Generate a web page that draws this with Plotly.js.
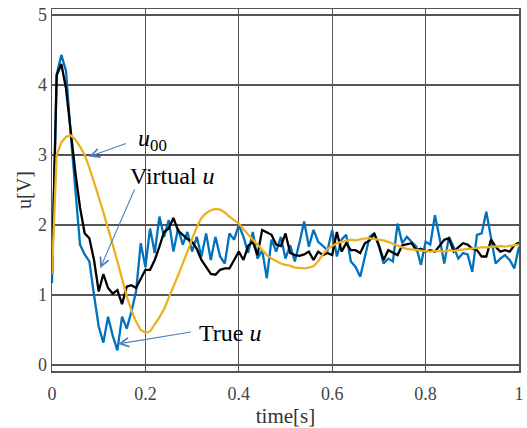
<!DOCTYPE html>
<html>
<head>
<meta charset="utf-8">
<script src="https://cdn.plot.ly/plotly-3.0.1.min.js"></script>
<style>html,body{margin:0;padding:0;background:#fff;}#chart{width:527px;height:428px;}</style>
</head>
<body>
<div id="chart"></div>
<script>
const time = [0.00,0.01,0.02,0.03,0.04,0.05,0.06,0.07,0.08,0.09,
0.10,0.11,0.12,0.13,0.14,0.15,0.16,0.17,0.18,0.19,
0.20,0.21,0.22,0.23,0.24,0.25,0.26,0.27,0.28,0.29,
0.30,0.31,0.32,0.33,0.34,0.35,0.36,0.37,0.38,0.39,
0.40,0.41,0.42,0.43,0.44,0.45,0.46,0.47,0.48,0.49,
0.50,0.51,0.52,0.53,0.54,0.55,0.56,0.57,0.58,0.59,
0.60,0.61,0.62,0.63,0.64,0.65,0.66,0.67,0.68,0.69,
0.70,0.71,0.72,0.73,0.74,0.75,0.76,0.77,0.78,0.79,
0.80,0.81,0.82,0.83,0.84,0.85,0.86,0.87,0.88,0.89,
0.90,0.91,0.92,0.93,0.94,0.95,0.96,0.97,0.98,0.99,1.00];

const trueU = [1.17,4.15,4.43,4.2,3.3,2.45,1.72,1.58,1.48,1.0,
0.55,0.32,0.69,0.42,0.21,0.69,0.52,0.76,1.05,1.74,
1.4,1.95,1.6,2.12,1.83,2.07,1.62,1.95,1.72,1.9,
1.62,1.83,1.55,1.88,1.5,1.83,1.55,1.45,1.88,1.79,
2.0,1.83,1.6,1.9,1.52,1.64,1.24,1.79,1.62,1.83,
1.52,1.71,1.48,1.75,2.05,1.69,1.93,1.76,1.7,1.64,
1.93,1.55,1.79,1.86,1.48,1.4,1.26,1.55,1.83,1.88,
1.7,1.45,1.52,1.48,2.02,1.74,1.83,1.76,1.69,1.43,
1.76,1.72,2.14,1.81,1.45,1.83,1.69,1.52,1.6,1.58,
1.33,1.86,1.88,2.19,1.81,1.45,1.52,1.57,1.5,1.38,1.69];

const virtualU = [1.3,4.14,4.3,3.95,3.35,2.75,2.25,1.88,1.81,1.5,
1.05,1.3,1.1,1.02,1.07,0.87,1.12,1.14,1.1,1.22,
1.36,1.36,1.5,1.69,1.9,1.95,2.1,1.92,1.86,1.8,
1.76,1.66,1.5,1.4,1.3,1.29,1.36,1.38,1.38,1.5,
1.62,1.5,1.7,1.76,1.57,1.93,1.9,1.86,1.72,1.7,
1.88,1.6,1.57,1.56,1.58,1.62,1.5,1.62,1.57,1.6,
1.57,1.9,1.62,1.74,1.64,1.64,1.6,1.74,1.78,1.88,
1.71,1.5,1.64,1.6,1.57,1.71,1.72,1.74,1.64,1.66,
1.62,1.64,1.62,1.7,1.79,1.81,1.62,1.68,1.74,1.72,
1.66,1.64,1.55,1.55,1.79,1.69,1.62,1.64,1.62,1.71,1.75];

const u00 = [1.3,3.0,3.18,3.26,3.28,3.22,3.12,3.0,2.82,2.62,
2.4,2.18,1.96,1.72,1.48,1.22,0.98,0.78,0.62,0.5,
0.46,0.48,0.58,0.68,0.8,0.95,1.12,1.28,1.44,1.62,
1.8,1.97,2.1,2.17,2.21,2.23,2.22,2.18,2.12,2.07,
2.02,1.94,1.86,1.79,1.72,1.64,1.57,1.52,1.48,1.45,
1.43,1.42,1.39,1.38,1.38,1.39,1.41,1.48,1.58,1.66,
1.7,1.74,1.76,1.78,1.79,1.78,1.8,1.81,1.81,1.8,
1.8,1.78,1.76,1.73,1.7,1.68,1.66,1.65,1.64,1.63,
1.62,1.62,1.63,1.63,1.62,1.64,1.63,1.64,1.65,1.66,
1.66,1.67,1.68,1.68,1.69,1.69,1.7,1.69,1.7,1.71,1.72];

const xTicks = [0, 0.2, 0.4, 0.6, 0.8, 1];
const xTickText = ['0', '0.2', '0.4', '0.6', '0.8', '1'];
const yTicks = [0, 1, 2, 3, 4, 5];
const yTickText = ['0', '1', '2', '3', '4', '5'];

const serif = 'Liberation Serif';
const gridCol = '#555555';
const arrowCol = '#4f81bd';

const traces = [
  {x: time, y: trueU, mode: 'lines', name: 'True u', line: {color: '#0072BD', width: 2.3}},
  {x: time, y: virtualU, mode: 'lines', name: 'Virtual u', line: {color: '#000000', width: 2.3}},
  {x: time, y: u00, mode: 'lines', name: 'u00', line: {color: '#EDB120', width: 2.3}}
];

function arrow(tipX, tipY, tailX, tailY) {
  return {x: tipX, y: tipY, ax: tailX, ay: tailY, xref: 'x', yref: 'y', axref: 'x', ayref: 'y',
    text: ' ', showarrow: true, arrowhead: 5, arrowsize: 1.6, arrowwidth: 1.1, arrowcolor: arrowCol,
    font: {family: serif, size: 2}};
}
function label(x, y, txt) {
  return {x: x, y: y, xref: 'x', yref: 'y', text: txt, showarrow: false,
    font: {family: serif, size: 24, color: '#000'}, xanchor: 'center', yanchor: 'middle'};
}

const layout = {
  width: 527, height: 428,
  margin: {l: 52, r: 8, t: 9, b: 57},
  paper_bgcolor: '#fff', plot_bgcolor: '#fff',
  showlegend: false,
  font: {family: serif, color: '#333'},
  xaxis: {
    range: [0, 1], tickvals: xTicks, ticktext: xTickText,
    showgrid: true, gridcolor: gridCol, gridwidth: 1.3, zeroline: false,
    showline: true, linecolor: gridCol, linewidth: 1.5, mirror: true,
    ticks: '', ticklabelstandoff: 6, tickfont: {family: serif, size: 18, color: '#444'},
    title: {text: 'time[s]', font: {family: serif, size: 21, color: '#333'}, standoff: 9}
  },
  yaxis: {
    range: [-0.086, 5.086], tickvals: yTicks, ticktext: yTickText,
    showgrid: true, gridcolor: gridCol, gridwidth: 1.3, zeroline: false,
    showline: true, linecolor: gridCol, linewidth: 1.5, mirror: true,
    ticks: '', tickfont: {family: serif, size: 18, color: '#444'},
    title: {text: 'u[V]', font: {family: serif, size: 20, color: '#333'}, standoff: 1}
  },
  annotations: [
    arrow(0.0792, 2.976, 0.1627, 3.176),
    arrow(0.1032, 1.381, 0.1792, 2.547),
    arrow(0.1413, 0.30, 0.302, 0.476),
    label(0.215, 3.22, '<i>u</i><sub>00</sub>'),
    label(0.2574, 2.70, 'Virtual <i>u</i>'),
    label(0.3816, 0.45, 'True <i>u</i>')
  ]
};

Plotly.newPlot('chart', traces, layout, {displayModeBar: false, staticPlot: true});
</script>
</body>
</html>
